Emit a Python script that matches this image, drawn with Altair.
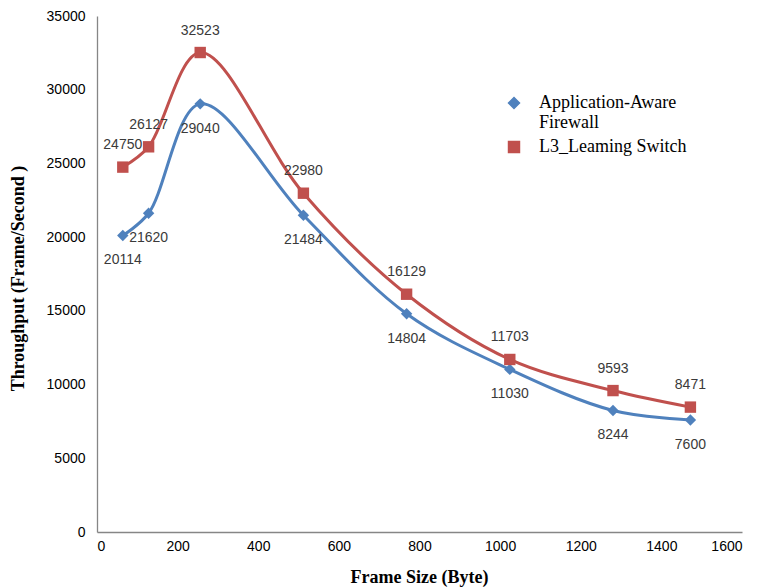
import altair as alt
import pandas as pd

frame_size = [64, 128, 256, 512, 768, 1024, 1280, 1472]
firewall = [20114, 21620, 29040, 21484, 14804, 11030, 8244, 7600]
l3_switch = [24750, 26127, 32523, 22980, 16129, 11703, 9593, 8471]
series_names = ["Application-Aware Firewall", "L3_Leaming Switch"]
colors = ["#4F81BD", "#C0504D"]
shapes = ["diamond", "square"]
x_ticks = [0, 200, 400, 600, 800, 1000, 1200, 1400, 1600]
y_ticks = [0, 5000, 10000, 15000, 20000, 25000, 30000, 35000]

df = pd.DataFrame({
    "size": frame_size + frame_size,
    "tp": firewall + l3_switch,
    "series": [series_names[0]] * len(frame_size) + [series_names[1]] * len(frame_size),
})

x = alt.X("size:Q", scale=alt.Scale(domain=[0, 1600], nice=False),
          axis=alt.Axis(values=x_ticks, title="Frame Size (Byte)", format="d",
                        titleX=322, titleY=45, titleBaseline="middle",
                        labelPadding=7))
y = alt.Y("tp:Q", scale=alt.Scale(domain=[0, 35000], nice=False),
          axis=alt.Axis(values=y_ticks, title="Throughput  (Frame/Second )", format="d",
                        titleX=-79, titleY=262, titleBaseline="middle", titleAngle=270,
                        labelPadding=12))

color_scale = alt.Scale(domain=series_names, range=colors)
shape_scale = alt.Scale(domain=series_names, range=shapes)

legend = alt.Legend(
    title=None, orient="none", legendX=408, legendY=78,
    labelFont="Liberation Serif", labelFontSize=18, labelColor="black",
    labelExpr="datum.label == 'Application-Aware Firewall' ? ['Application-Aware', 'Firewall'] : datum.label",
    symbolSize=120, labelOffset=16, rowPadding=6, labelLimit=300,
)

base = alt.Chart(df).encode(x=x, y=y)

lines = base.mark_line(interpolate="catmull-rom", strokeWidth=3).encode(
    color=alt.Color("series:N", scale=color_scale, legend=legend),
)

points = base.mark_point(filled=True, size=130, opacity=1).encode(
    color=alt.Color("series:N", scale=color_scale, legend=legend),
    shape=alt.Shape("series:N", scale=shape_scale, legend=legend),
)

labels_top = base.transform_filter(alt.datum.series == series_names[1]).mark_text(
    dy=-22, font="Liberation Sans", fontSize=14, color="#3a3a3a"
).encode(text=alt.Text("tp:Q", format="d"))

labels_bottom = base.transform_filter(alt.datum.series == series_names[0]).mark_text(
    dy=25, font="Liberation Sans", fontSize=14, color="#3a3a3a"
).encode(text=alt.Text("tp:Q", format="d"))

chart = alt.layer(lines, points, labels_top, labels_bottom).properties(
    width=645, height=516,
    autosize=alt.AutoSizeParams(type="none"),
    padding={"left": 97, "top": 16, "right": 17, "bottom": 55},
    background="white",
).configure_view(stroke=None).configure_axis(
    grid=False, ticks=False, tickSize=0, domainColor="#868686", domainWidth=1.3,
    labelFont="Liberation Sans", labelFontSize=14, labelColor="black",
    titleFont="Liberation Serif", titleFontSize=18, titleFontWeight="bold", titleColor="black",
)

chart.save("out.html", embed_options={"renderer": "svg", "actions": False})
